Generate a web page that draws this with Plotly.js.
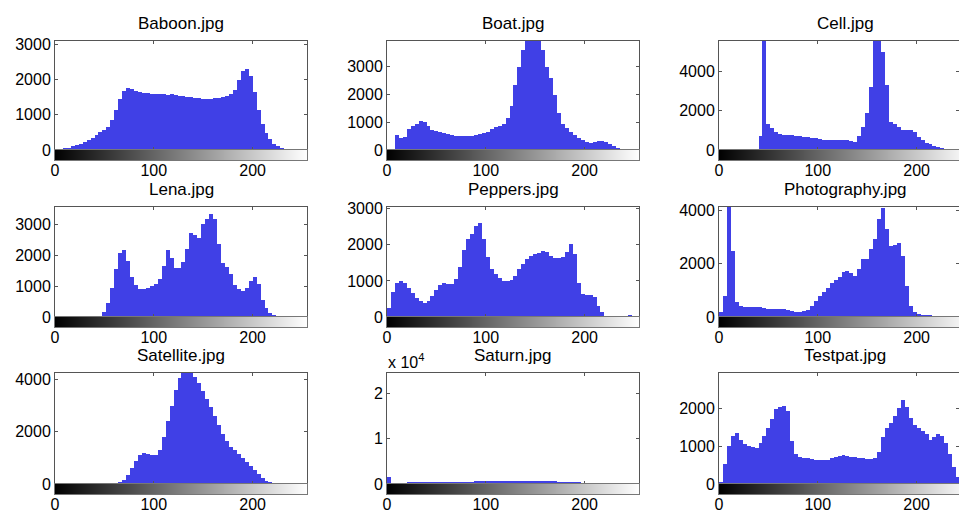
<!DOCTYPE html>
<html>
<head>
<meta charset="utf-8">
<script src="https://cdn.plot.ly/plotly-3.0.1.min.js"></script>
<style>html,body{margin:0;padding:0;background:#fff;}#chart{width:959px;height:517px;}</style>
</head>
<body>
<div id="chart"></div>
<script>
// Gray-level bins (start of each 4-level bin)
const grayLevels = [0,4,8,12,16,20,24,28,32,36,40,44,48,52,56,60,64,68,72,76,80,84,88,92,96,100,104,108,112,116,120,124,128,132,136,140,144,148,152,156,160,164,168,172,176,180,184,188,192,196,200,204,208,212,216,220,224,228,232,236,240,244,248,252];

const titles = ["Baboon.jpg","Boat.jpg","Cell.jpg","Lena.jpg","Peppers.jpg","Photography.jpg","Satellite.jpg","Saturn.jpg","Testpat.jpg"];

const baboon = [10,25,45,70,100,135,170,220,280,350,430,500,560,660,850,1150,1450,1680,1760,1740,1680,1640,1620,1610,1600,1590,1580,1590,1570,1580,1560,1540,1530,1520,1500,1490,1470,1460,1450,1460,1470,1490,1500,1540,1600,1720,1980,2250,2300,2100,1650,1150,750,480,300,180,100,50,20,5,0,0,0,0];
const boat = [0,0,550,420,480,750,880,920,1030,1000,850,730,670,640,600,580,550,520,500,490,490,510,540,560,600,650,770,830,870,920,1150,1600,2350,3000,3600,4100,4500,4600,4300,3600,3000,2600,2000,1350,950,780,660,540,440,360,300,270,290,330,340,300,210,130,70,35,15,0,0,0];
const cell = [0,0,0,0,0,0,0,0,0,0,700,7000,1300,1100,900,820,780,770,750,720,700,680,660,630,600,570,530,500,490,500,510,520,500,450,420,700,1150,1900,3200,7000,7500,5000,3300,1450,1300,1150,1030,1020,1000,900,650,500,380,290,200,140,80,40,15,0,0,0,0,0];
const lena = [0,0,0,0,0,0,0,0,0,0,0,30,150,450,950,1550,2050,2150,1800,1300,1020,910,900,930,990,1060,1230,1650,2150,1900,1580,1570,1760,2200,2700,2650,2550,3000,3150,3330,3150,2350,1750,1620,1380,1030,890,830,920,1150,1300,1050,560,300,120,50,10,0,0,0,0,0,0,0];
const peppers = [250,700,950,990,940,800,660,540,450,400,440,580,740,880,930,910,920,1050,1400,1850,2150,2300,2520,2620,2150,1650,1330,1180,1080,1010,990,1030,1150,1330,1480,1600,1700,1750,1780,1840,1800,1680,1640,1640,1670,1800,2030,1750,950,650,600,610,560,300,130,30,0,0,0,0,0,50,0,0];
const photography = [200,800,9000,2500,550,410,380,360,370,380,360,330,310,290,290,320,300,250,220,200,190,210,280,420,600,780,950,1100,1270,1400,1520,1700,1740,1640,1540,1800,2200,2200,2550,2950,3700,4100,3300,2680,2700,2780,2300,1150,400,190,120,90,70,60,45,45,45,45,45,45,45,45,45,45];
const satellite = [0,0,0,0,0,0,0,0,0,0,0,0,0,0,0,15,60,140,330,600,880,1100,1180,1150,1100,1100,1300,1800,2400,3000,3600,4050,4300,4350,4300,4100,3850,3550,3250,2950,2600,2250,1900,1630,1430,1300,1150,1000,850,700,530,380,240,130,70,35,15,5,5,5,5,5,5,5];
const saturn = [1500,300,320,330,330,340,350,350,360,370,380,400,420,440,450,470,480,500,510,520,540,550,560,580,600,620,640,650,680,700,720,730,750,760,760,750,740,720,700,680,650,620,580,540,500,460,420,380,340,300,260,220,190,160,130,100,80,60,40,25,10,10,10,10];
const testpat = [60,520,1000,1280,1360,1180,1050,1020,990,950,1080,1280,1480,1720,2000,2050,2060,1950,1150,800,720,700,690,670,650,650,650,650,690,710,750,760,740,720,710,690,680,670,670,690,850,1250,1500,1630,1800,2020,2230,2050,1750,1580,1480,1420,1320,1160,1260,1320,1270,1080,800,460,180,40,0,0];

const series = [baboon, boat, cell, lena, peppers, photography, satellite, saturn, testpat];

// y-axis upper limits and tick values
const yMax = [3100, 3930, 5550, 3550, 3050, 4140, 4250, 24500, 2950];
const yTickVals = [
  [0,1000,2000,3000],[0,1000,2000,3000],[0,2000,4000],
  [0,1000,2000,3000],[0,1000,2000,3000],[0,2000,4000],
  [0,2000,4000],[0,10000,20000],[0,1000,2000]
];
const yTickText = [
  ["0","1000","2000","3000"],["0","1000","2000","3000"],["0","2000","4000"],
  ["0","1000","2000","3000"],["0","1000","2000","3000"],["0","2000","4000"],
  ["0","2000","4000"],["0","1","2"],["0","1000","2000"]
];
const xTickVals = [0,100,200];
const xTickText = ["0","100","200"];

// ---- layout geometry (pixels) ----
const W = 959, H = 517;
const colLeft = [55, 387, 719];
const colWidthFull = 252;           // pixel width of 0..255
const rowTop = [41, 207, 373];      // top of histogram box
const rowBase = [150, 317, 484];    // baseline (0)
const barH = 10;                    // colour bar height

const gradX = [];
for (let g = 0; g <= 255; g++) gradX.push(g);

const fam = '"Liberation Sans", Arial, Helvetica, sans-serif';
const font = {family: fam, size: 16, color: '#000'};
const layout = {
  width: W, height: H,
  margin: {l: 0, r: 0, t: 0, b: 0},
  paper_bgcolor: '#fff', plot_bgcolor: '#fff',
  showlegend: false, bargap: 0,
  font: font,
  annotations: []
};
const traces = [];

for (let i = 0; i < 9; i++) {
  const r = Math.floor(i / 3), c = i % 3;
  const left = colLeft[c];
  let right = left + colWidthFull;
  let xr = [0, 255];
  if (right > W) { xr = [0, 255 * (W - left) / colWidthFull]; right = W; }
  const xd = [left / W, right / W];
  const yd = [(H - rowBase[r]) / H, (H - rowTop[r]) / H];
  const cd = [(H - rowBase[r] - barH) / H, (H - rowBase[r]) / H];
  const n1 = 2 * i + 1, n2 = 2 * i + 2;
  const k1 = n1 === 1 ? '' : String(n1), k2 = String(n2);

  traces.push({
    type: 'bar', x: grayLevels, y: series[i],
    offset: 0, width: 4,
    marker: {color: '#4040e6', line: {width: 0}},
    xaxis: 'x' + k1, yaxis: 'y' + k1, hoverinfo: 'x+y'
  });
  traces.push({
    type: 'heatmap', x: gradX, y: [0], z: [gradX],
    colorscale: [[0, '#000'], [1, '#fff']], zmin: 0, zmax: 255,
    showscale: false, hoverinfo: 'skip',
    xaxis: 'x' + k2, yaxis: 'y' + k2
  });

  layout['xaxis' + k1] = {
    domain: xd, range: xr, anchor: 'y' + k1,
    showticklabels: false, ticks: 'inside', ticklen: 3, tickcolor: '#555',
    tickvals: xTickVals, showgrid: false, zeroline: false,
    showline: true, mirror: 'ticks', linecolor: '#555', linewidth: 1
  };
  layout['yaxis' + k1] = {
    domain: yd, range: [0, yMax[i]], anchor: 'x' + k1,
    tickvals: yTickVals[i], ticktext: yTickText[i],
    ticks: 'inside', ticklen: 3, tickcolor: '#555',
    showgrid: false, zeroline: false, showline: true, mirror: 'ticks',
    linecolor: '#555', linewidth: 1, tickfont: font
  };
  layout['xaxis' + k2] = {
    domain: xd, range: xr, anchor: 'y' + k2,
    tickvals: xTickVals, ticktext: xTickText, ticks: '',
    ticklabelstandoff: -4,
    showgrid: false, zeroline: false, showline: true, mirror: true,
    linecolor: '#777', linewidth: 1, tickfont: font
  };
  layout['yaxis' + k2] = {
    domain: cd, range: [-0.5, 0.5], anchor: 'x' + k2,
    showticklabels: false, ticks: '', showgrid: false, zeroline: false,
    showline: true, mirror: true, linecolor: '#777', linewidth: 1
  };

  const centerPx = left + colWidthFull / 2;
  layout.annotations.push({
    text: titles[i], xref: 'paper', yref: 'paper',
    x: centerPx / W, y: (H - (rowTop[r] - 6)) / H,
    xanchor: 'center', yanchor: 'bottom', showarrow: false,
    font: {family: fam, size: 17, color: '#000'}
  });
}

// Saturn exponent label
layout.annotations.push({
  text: 'x 10<sup>4</sup>', xref: 'paper', yref: 'paper',
  x: 386 / W, y: (H - 373) / H, xanchor: 'left', yanchor: 'bottom',
  showarrow: false, font: {family: fam, size: 16, color: '#000'}
});

Plotly.newPlot('chart', traces, layout, {displayModeBar: false, staticPlot: true});
</script>
</body>
</html>
